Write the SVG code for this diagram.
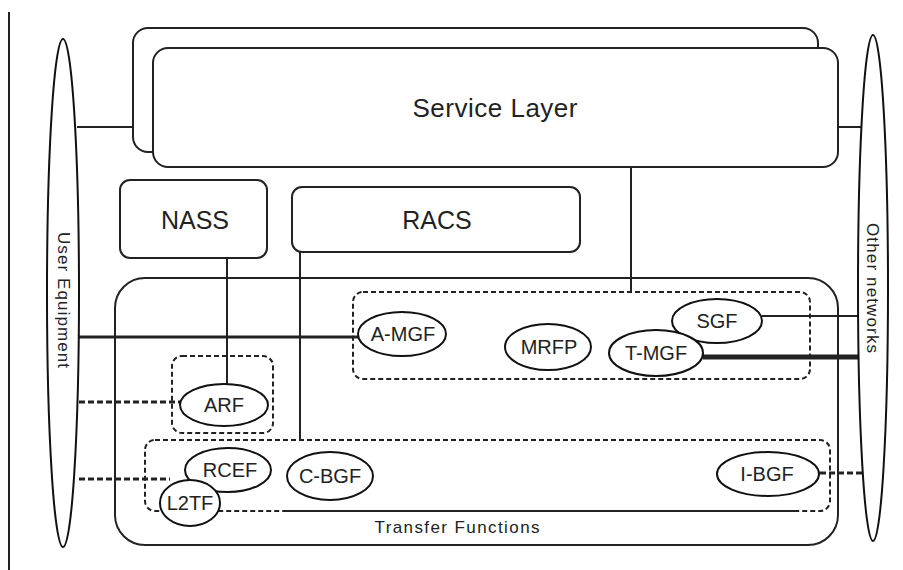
<svg xmlns="http://www.w3.org/2000/svg" width="903" height="570" viewBox="0 0 903 570">
<style>
  .box { fill: #fff; stroke: #222; stroke-width: 2; }
  .open { fill: none; stroke: #222; stroke-width: 2; }
  .dash { fill: none; stroke: #222; stroke-width: 2; stroke-dasharray: 5 3; }
  .fn { fill: #fff; stroke: #111; stroke-width: 2; }
  .ln { stroke: #222; stroke-width: 2; fill: none; }
  .lnd { stroke: #222; stroke-width: 3; stroke-dasharray: 6 3; fill: none; }
  text { font-family: "Liberation Sans", Arial, sans-serif; fill: #222; text-anchor: middle; }
  .lbl { font-size: 20px; }
  .big { font-size: 25px; }
</style>
<rect width="903" height="570" fill="#fff"/>
<line x1="9" y1="12" x2="9" y2="570" stroke="#222" stroke-width="2"/>

<g id="service-layer">
  <rect class="box" x="133" y="28" width="685" height="124" rx="15"/>
  <rect class="box" x="153" y="48" width="685" height="119" rx="15"/>
  <text x="495" y="117" font-size="26" textLength="165" lengthAdjust="spacing">Service Layer</text>
</g>

<g id="nass">
  <rect class="box" x="120" y="180" width="147" height="78" rx="10"/>
  <text class="big" x="195" y="229">NASS</text>
</g>

<g id="racs">
  <rect class="box" x="292" y="187" width="288" height="65" rx="10"/>
  <text class="big" x="437" y="229">RACS</text>
</g>

<g id="transport">
  <rect class="open" x="115" y="278" width="723" height="267" rx="30"/>
</g>

<g id="media-group">
  <rect class="dash" x="353" y="292" width="457" height="87" rx="10"/>
</g>

<g id="arf-group">
  <rect class="dash" x="172" y="356" width="101" height="77" rx="10"/>
</g>

<g id="transfer-functions">
  <rect class="dash" x="145" y="440" width="685" height="71" rx="10"/>
  <line x1="283" y1="511" x2="795" y2="511" stroke="#222" stroke-width="2"/>
  <text x="457" y="533" font-size="17" fill="#333" textLength="165" lengthAdjust="spacing">Transfer Functions</text>
</g>

<g id="connectors">
  <line class="ln" x1="77" y1="127" x2="133" y2="127"/>
  <line class="ln" x1="838" y1="127" x2="861" y2="127"/>
  <line class="ln" x1="631" y1="167" x2="631" y2="292"/>
  <line class="ln" x1="227" y1="258" x2="227" y2="384"/>
  <line class="ln" x1="300" y1="252" x2="300" y2="440"/>
  <line x1="79" y1="337" x2="358" y2="337" stroke="#222" stroke-width="3"/>
  <line class="lnd" x1="79" y1="402" x2="180" y2="402"/>
  <line class="lnd" x1="79" y1="479" x2="170" y2="479"/>
  <line class="ln" x1="762" y1="316" x2="859" y2="316"/>
  <line x1="703" y1="357" x2="859" y2="357" stroke="#222" stroke-width="5"/>
  <line class="lnd" x1="820" y1="473" x2="865" y2="473"/>
</g>

<g id="user-equipment">
  <ellipse class="fn" cx="63" cy="293" rx="16" ry="254"/>
  <text x="63" y="300" font-size="17" dominant-baseline="central" transform="rotate(90 63 300)" textLength="136" lengthAdjust="spacing">User Equipment</text>
</g>

<g id="other-networks">
  <ellipse class="fn" cx="873" cy="288" rx="15" ry="253"/>
  <text x="872" y="288" font-size="17" dominant-baseline="central" transform="rotate(90 872 288)" textLength="130" lengthAdjust="spacing">Other networks</text>
</g>

<g id="a-mgf">
  <ellipse class="fn" cx="402" cy="334" rx="44" ry="22"/>
  <text class="lbl" x="403" y="341">A-MGF</text>
</g>

<g id="mrfp">
  <ellipse class="fn" cx="548" cy="347" rx="43" ry="23"/>
  <text class="lbl" x="549" y="354">MRFP</text>
</g>

<g id="sgf">
  <ellipse class="fn" cx="717" cy="321" rx="45" ry="22"/>
  <text class="lbl" x="717" y="328">SGF</text>
</g>

<g id="t-mgf">
  <ellipse class="fn" cx="656" cy="353" rx="47" ry="23"/>
  <text class="lbl" x="656" y="360">T-MGF</text>
</g>

<g id="arf">
  <ellipse class="fn" cx="224" cy="405" rx="44" ry="21"/>
  <text class="lbl" x="224" y="412">ARF</text>
</g>

<g id="rcef">
  <ellipse class="fn" cx="228" cy="470" rx="43" ry="22"/>
  <text class="lbl" x="230" y="477">RCEF</text>
</g>

<g id="l2tf">
  <ellipse class="fn" cx="190" cy="503" rx="30" ry="23"/>
  <text class="lbl" x="190" y="510">L2TF</text>
</g>

<g id="c-bgf">
  <ellipse class="fn" cx="330" cy="476" rx="43" ry="24"/>
  <text class="lbl" x="330" y="483">C-BGF</text>
</g>

<g id="i-bgf">
  <ellipse class="fn" cx="768" cy="474" rx="51" ry="22"/>
  <text class="lbl" x="767" y="481">I-BGF</text>
</g>
</svg>
